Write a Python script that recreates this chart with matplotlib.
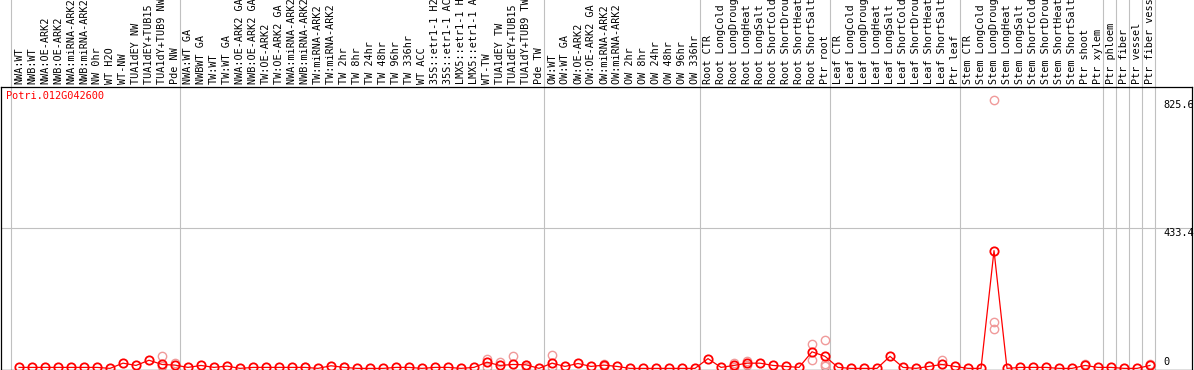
import numpy as np
import matplotlib.pyplot as plt

gene = "Potri.012G042600"

# samples in display order, grouped (gray separators between groups)
group_sizes = [13, 28, 12, 10, 10, 11, 1, 1, 1, 1]

labels = [
    "NWA:WT", "NWB:WT", "NWA:OE-ARK2", "NWB:OE-ARK2", "NWA:miRNA-ARK2",
    "NWB:miRNA-ARK2", "NW 0hr", "WT H2O", "WT-NW", "TUA1dEY NW",
    "TUA1dEY+TUB15 NW", "TUA1dY+TUB9 NW", "Pde NW",
    "NWA:WT GA", "NWBWT GA", "TW:WT", "TW:WT GA", "NWA:OE-ARK2 GA",
    "NWB:OE-ARK2 GA", "TW:OE-ARK2", "TW:OE-ARK2 GA", "NWA:miRNA-ARK2 GA",
    "NWB:miRNA-ARK2 GA", "TW:miRNA-ARK2", "TW:miRNA-ARK2 GA", "TW 2hr",
    "TW 8hr", "TW 24hr", "TW 48hr", "TW 96hr", "TW 336hr", "WT ACC",
    "35S::etr1-1 H2O", "35S::etr1-1 ACC", "LMX5::etr1-1 H2O",
    "LMX5::etr1-1 ACC", "WT-TW", "TUA1dEY TW", "TUA1dEY+TUB15 TW",
    "TUA1dY+TUB9 TW", "Pde TW",
    "OW:WT", "OW:WT GA", "OW:OE-ARK2", "OW:OE-ARK2 GA", "OW:miRNA-ARK2",
    "OW:miRNA-ARK2 GA", "OW 2hr", "OW 8hr", "OW 24hr", "OW 48hr", "OW 96hr",
    "OW 336hr",
    "Root CTR", "Root LongCold", "Root LongDrought", "Root LongHeat",
    "Root LongSalt", "Root ShortCold", "Root ShortDrought", "Root ShortHeat",
    "Root ShortSalt", "Ptr root",
    "Leaf CTR", "Leaf LongCold", "Leaf LongDrought", "Leaf LongHeat",
    "Leaf LongSalt", "Leaf ShortCold", "Leaf ShortDrought", "Leaf ShortHeat",
    "Leaf ShortSalt", "Ptr leaf",
    "Stem CTR", "Stem LongCold", "Stem LongDrought", "Stem LongHeat",
    "Stem LongSalt", "Stem ShortCold", "Stem ShortDrought", "Stem ShortHeat",
    "Stem ShortSalt", "Ptr shoot", "Ptr xylem",
    "Ptr phloem", "Ptr fiber", "Ptr vessel", "Ptr fiber vessel",
]

means = [
    4, 4, 4, 4, 4, 4, 4, 1, 17, 10, 26, 13, 11,
    4, 10, 4, 8, 1, 4, 4, 4, 4, 4, 1, 9, 4, 1, 1, 1, 4, 4, 1, 4, 4, 1, 4,
    20, 10, 13, 12, 1,
    17, 7, 16, 7, 11, 7, 1, 1, 1, 1, 1, 1,
    31, 4, 10, 17, 17, 10, 7, 4, 52, 38,
    4, 1, 1, 1, 38, 4, 1, 7, 13, 7,
    1, 1, 363, 1, 4, 4, 4, 1, 1, 10, 4,
    4, 1, 1, 10,
]

# individual replicates that stand apart from the means
rep_idx = [11, 11, 12, 22, 25, 36, 36, 37, 38, 39, 39, 41, 41, 45, 45,
           55, 55, 56, 56, 61, 61, 62, 62, 62, 71, 75, 75, 75, 82, 87]
rep_val = [40, 8, 16, 6, 6, 30, 4, 20, 38, 12, 4, 43, 4, 14, 8,
           16, 4, 24, 10, 75, 27, 88, 14, 7, 28, 825.6, 145, 123, 14, 14]

ytick_vals = [0, 433.4, 825.6]

W, H = 1194, 370
fig = plt.figure(figsize=(W / 100, H / 100), dpi=100)
ax = fig.add_axes([1 / W, 0, 1191 / W, 283 / H])

x = np.arange(len(means))
grey = "#c0c0c0"
mono = "DejaVu Sans Mono"

# group separators run up through the label header
bounds = np.concatenate([[0], np.cumsum(group_sizes)]) - 0.615
for b in bounds:
    ax.axvline(b, ymin=0, ymax=H / 283, color=grey, lw=0.8, clip_on=False, zorder=0)
ax.axhline(433.4, color=grey, lw=0.8, zorder=0)

ax.plot(rep_idx, rep_val, ls="none", marker="o", ms=6, mfc="none",
        mec="#f09a9a", mew=1.0, zorder=2)
ax.plot(x, means, color="red", lw=0.9, marker="o", ms=6, mfc="none",
        mec="red", mew=1.3, zorder=3)

ax.set_xlim(-1.385, 90.23)
ax.set_ylim(-4, 866)

ax.set_xticks(x)
ax.set_xticklabels(labels, family=mono, fontsize=7.3)
ax.xaxis.tick_top()
ax.tick_params(axis="x", length=0, pad=2.2, rotation=90)
ax.set_yticks([])

for v in ytick_vals:
    if v == 0:
        ax.annotate("0", xy=(88.0, v), xytext=(0, 1.5), textcoords="offset points",
                    ha="left", va="bottom", family=mono, fontsize=7.4)
    else:
        ax.annotate(f"{v:g}", xy=(88.0, v), ha="left", va="top",
                    family=mono, fontsize=7.4, annotation_clip=False)

ax.annotate(gene, xy=(0, 1), xycoords="axes fraction", xytext=(3.6, -3),
            textcoords="offset points", ha="left", va="top", color="red",
            family=mono, fontsize=7.4)

for s in ax.spines.values():
    s.set_color("black")
    s.set_linewidth(0.9)

fig.savefig("out.png", dpi=100)
